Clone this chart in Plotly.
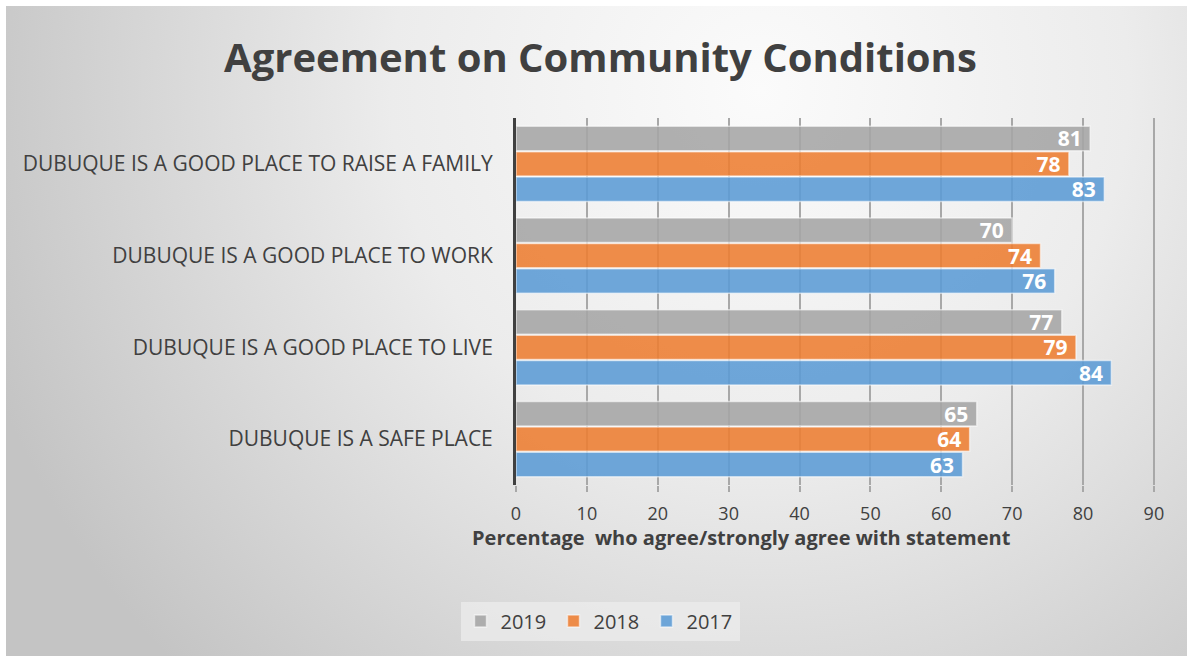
import base64
import plotly.graph_objects as go

categories = [
    "DUBUQUE IS A SAFE PLACE",
    "DUBUQUE IS A GOOD PLACE TO LIVE",
    "DUBUQUE IS A GOOD PLACE TO WORK",
    "DUBUQUE IS A GOOD PLACE TO RAISE A FAMILY",
]
values_2017 = [63, 84, 76, 83]
values_2018 = [64, 79, 74, 78]
values_2019 = [65, 77, 70, 81]
x_ticks = [0, 10, 20, 30, 40, 50, 60, 70, 80, 90]

W, H = 1189, 656
ML, MR, MT, MB = 516, 28, 118, 171
PW, PH = W - ML - MR, H - MT - MB

FONT = "Open Sans"
TXT = "#404040"

svg = f'''<svg xmlns="http://www.w3.org/2000/svg" width="{W}" height="{H}" viewBox="0 0 {W} {H}">
<defs><radialGradient id="g" gradientUnits="userSpaceOnUse" cx="760" cy="90" r="820">
<stop offset="0" stop-color="#fbfbfb"/><stop offset="0.45" stop-color="#ececec"/><stop offset="1" stop-color="#c4c4c4"/></radialGradient></defs>
<rect x="0" y="0" width="{W}" height="{H}" fill="#ffffff"/>
<rect x="6" y="6" width="{W-8}" height="{H-6}" fill="url(#g)"/>
</svg>'''
src = "data:image/svg+xml;base64," + base64.b64encode(svg.encode()).decode()

fig = go.Figure()
series = [("2017", values_2017, "rgba(91,155,213,0.88)"),
          ("2018", values_2018, "rgba(237,125,49,0.88)"),
          ("2019", values_2019, "rgba(165,165,165,0.88)")]
for name, vals, col in series:
    fig.add_trace(go.Bar(
        y=categories, x=vals, name=name, orientation="h",
        marker=dict(color=col, line=dict(color="rgba(255,255,255,0.55)", width=1.5)),
        text=[str(v) + " " for v in vals], textposition="inside", insidetextanchor="end",
        textangle=0,
        textfont=dict(family=FONT, size=21, color="white", weight="bold"),
        constraintext="none", cliponaxis=False,
    ))

fig.update_layout(
    width=W, height=H,
    margin=dict(l=ML, r=MR, t=MT, b=MB),
    paper_bgcolor="white", plot_bgcolor="rgba(0,0,0,0)",
    barmode="group", bargap=0.17, bargroupgap=0.04,
    font=dict(family=FONT, color=TXT),
    title=dict(text="<b>Agreement on Community Conditions</b>", xref="container", x=0.505,
               xanchor="center", yref="container", y=1 - 58 / H, yanchor="middle",
               font=dict(family=FONT, size=40, color=TXT)),
    legend=dict(orientation="h", traceorder="reversed", xref="container", x=600 / W,
                xanchor="center", yref="container", y=1 - 621 / H, yanchor="middle",
                bgcolor="rgba(236,236,236,0.75)", font=dict(size=20, color=TXT),
                itemwidth=30, entrywidthmode="pixels", entrywidth=48),
    xaxis=dict(range=[0, 91], tickvals=x_ticks, showgrid=True, gridcolor="#a8a8a8", gridwidth=1.5,
               zeroline=False, ticks="outside", ticklen=6, tickcolor="#a8a8a8", tickwidth=1.5,
               tickfont=dict(size=18, color=TXT), ticklabelstandoff=6, showline=False),
    yaxis=dict(categoryorder="array", categoryarray=categories, showgrid=False,
               showline=True, linecolor="#404040", linewidth=3,
               tickfont=dict(size=21, color=TXT), ticklabelstandoff=16, ticks=""),
    images=[dict(source=src, xref="paper", yref="paper", x=-ML / PW, y=1 + MT / PH,
                 sizex=W / PW, sizey=H / PH, xanchor="left", yanchor="top",
                 sizing="stretch", layer="below")],
    annotations=[dict(text="<b>Percentage  who agree/strongly agree with statement</b>",
                      xref="paper", yref="paper", x=(741 - ML) / PW, y=(H - MB - 537) / PH,
                      xanchor="center", yanchor="middle", showarrow=False,
                      font=dict(size=20, color=TXT))],
)

fig.write_html("out.html", config={"displayModeBar": False},
               post_script="document.body.style.margin='0';")
